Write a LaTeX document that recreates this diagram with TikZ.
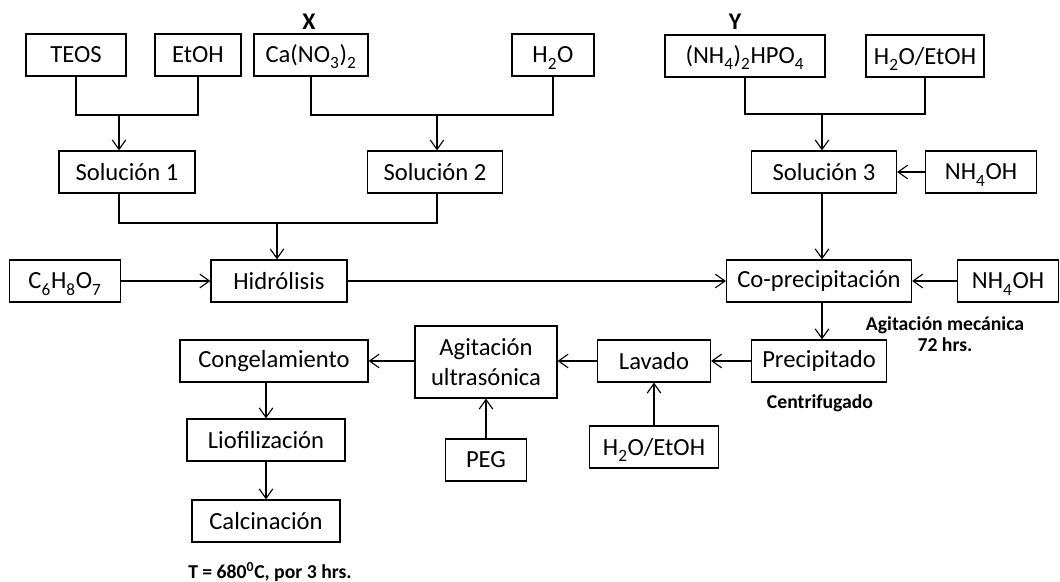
\documentclass[tikz,border=0pt]{standalone}
\usepackage{fontspec}
\setmainfont{Carlito}
\usetikzlibrary{arrows.meta}

\tikzset{
  box/.style={draw, line width=0.8pt, inner sep=0pt, minimum width=#1,
    minimum height=1.05cm, align=center, font=\fontsize{17.5}{21}\selectfont},
  link/.style={line width=0.8pt},
  arr/.style={link, -{Straight Barb[length=2.4mm,width=3.4mm,line width=0.8pt]}},
  note/.style={font=\bfseries\fontsize{14}{14.5}\selectfont, align=center},
  tag/.style={font=\bfseries\fontsize{17}{20}\selectfont}
}
\newcommand{\ssub}[1]{\smash{\raisebox{-0.12em}{\textsubscript{#1}}}}

\begin{document}
\begin{tikzpicture}[x=0.025cm, y=-0.025cm]
    \useasboundingbox (0,0) rectangle (1060,582);

    % starting reagents
    \node[box=2.5cm]   (teos)  at (76,55)  {TEOS};
    \node[box=2.15cm]  (etoh)  at (198,55) {EtOH};
    \node[box=2.85cm]  (cano)  at (311,55) {Ca(NO\ssub{3})\ssub{2}};
    \node[box=2.05cm]  (hdos)  at (553,55) {H\ssub{2}O};
    \node[box=4cm]     (nhpo)  at (745,56) {(NH\ssub{4})\ssub{2}HPO\ssub{4}};
    \node[box=2.95cm]  (hetoh) at (925,56) {H\ssub{2}O/EtOH};
    \node[tag] (tagx) at (309,22) {X};
    \node[tag] (tagy) at (735,22) {Y};

    % solutions
    \node[box=3.4cm]   (sol1)  at (127,172) {Solución 1};
    \node[box=3.375cm] (sol2)  at (435,172) {Solución 2};
    \node[box=3.625cm] (sol3)  at (824,172) {Solución 3};
    \node[box=2.775cm] (nhoha) at (981,172) {NH\ssub{4}OH};

    % reaction line
    \node[box=2.775cm] (cho)   at (65,281)   {C\ssub{6}H\ssub{8}O\ssub{7}};
    \node[box=3.4cm]   (hidro) at (279,281)  {Hidrólisis};
    \node[box=4.625cm] (copre) at (819,281)  {Co-precipitación};
    \node[box=2.525cm] (nhohb) at (1008,281) {NH\ssub{4}OH};
    \node[note] (agmec) at (945,334) {Agitación mecánica\\72 hrs.};

    % treatment line
    \node[box=3.375cm] (precip) at (819,361) {Precipitado};
    \node[box=2.825cm] (lavado) at (654,361) {Lavado};
    \node[box=3.55cm, minimum height=1.8cm] (agita) at (486,362) {Agitación\\ultrasónica};
    \node[box=4.7cm]   (congel) at (274,361) {Congelamiento};
    \node[note] (centri) at (820,403) {Centrifugado};
    \node[box=2.025cm] (peg)    at (486,460) {PEG};
    \node[box=3.225cm] (hetohb) at (654,447) {H\ssub{2}O/EtOH};
    \node[box=3.95cm]  (liofil) at (266,440) {Liofilización};
    \node[box=3.7cm]   (calcin) at (266,521) {Calcinación};
    \node[note] (temp) at (270,572) {T = 680\textsuperscript{0}C, por 3 hrs.};

    % merge points
    \coordinate (m1) at (119,115);
    \coordinate (m2) at (437,115);
    \coordinate (m3) at (822,114);
    \coordinate (m4) at (277,223);

    \draw[link] (teos.south) |- (m1) -| (etoh.south);
    \draw[arr] (m1) -- (m1 |- sol1.north);
    \draw[link] (cano.south) |- (m2) -| (hdos.south);
    \draw[arr] (m2) -- (m2 |- sol2.north);
    \draw[link] (nhpo.south) |- (m3) -| (hetoh.south);
    \draw[arr] (m3) -- (m3 |- sol3.north);
    \draw[arr] (nhoha) -- (sol3);

    \draw[link] (m1 |- sol1.south) |- (m4) -| (m2 |- sol2.south);
    \draw[arr] (m4) -- (m4 |- hidro.north);
    \draw[arr] (cho) -- (hidro);
    \draw[arr] (hidro) -- (copre);
    \draw[arr] (m3 |- sol3.south) -- (m3 |- copre.north);
    \draw[arr] (nhohb) -- (copre);

    \draw[arr] (m3 |- copre.south) -- (m3 |- precip.north);
    \draw[arr] (precip) -- (lavado);
    \draw[arr] (lavado) -- (lavado -| agita.east);
    \draw[arr] (agita.west |- congel) -- (congel);
    \draw[arr] (hetohb) -- (lavado);
    \draw[arr] (peg) -- (agita);
    \draw[arr] (liofil.north |- congel.south) -- (liofil.north);
    \draw[arr] (liofil) -- (calcin);
\end{tikzpicture}
\end{document}
